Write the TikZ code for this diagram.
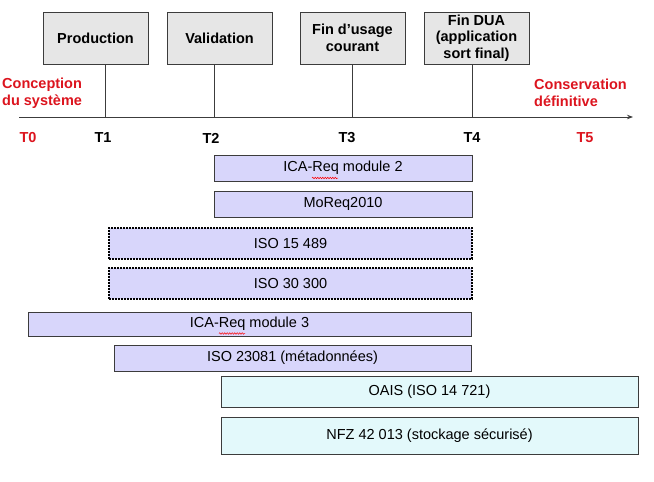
\documentclass[tikz,border=0pt]{standalone}
\usepackage{fontspec}
\setmainfont{Liberation Sans}
\usetikzlibrary{arrows.meta,decorations.pathmorphing}
\definecolor{redlab}{RGB}{220,20,30}
\definecolor{boxgray}{RGB}{230,230,230}
\definecolor{edgegray}{RGB}{60,60,60}
\definecolor{lav}{RGB}{216,214,251}
\definecolor{paleblue}{RGB}{227,249,251}
\begin{document}
\begin{tikzpicture}[x=1pt,y=-1pt,
  every node/.style={font=\fontsize{14.5}{16.5}\selectfont, inner sep=0pt},
  topbox/.style={draw=edgegray, line width=0.9pt, fill=boxgray, minimum width=105pt, minimum height=52pt, align=center, font=\fontsize{14.5}{16.5}\selectfont\bfseries},
  tlab/.style={font=\fontsize{14.5}{16.5}\selectfont\bfseries},
  redlab/.style={text=redlab, align=left, anchor=west, font=\fontsize{14.5}{17}\selectfont\bfseries},
  bar/.style={draw=edgegray, line width=0.9pt, fill=lav},
  dotbar/.style={draw=black, line width=1.8pt, dash pattern=on 1.6pt off 1.4pt, fill=lav},
  bluebar/.style={draw=edgegray, line width=0.9pt, fill=paleblue},
  squig/.style={draw=red, line width=0.5pt, decorate, decoration={snake, segment length=2.5pt, amplitude=0.8pt}},
  tick/.style={draw=edgegray, line width=0.9pt}
]
\useasboundingbox (0,0) rectangle (654,482);

% time positions on axis
\coordinate (axs) at (19,117);
\coordinate (axe) at (633,117);
\coordinate (t1) at (105,117);
\coordinate (t2) at (214,117);
\coordinate (t3) at (352,117);
\coordinate (t4) at (472,117);

% top boxes
\node[topbox] (prod) at (95.5,38) {Production};
\node[topbox] (valid) at (219.5,38) {Validation};
\node[topbox] (finu) at (352.5,38) {Fin d’usage\\courant};
\node[topbox] (fdua) at (476.5,38) {Fin DUA\\(application\\sort final)};

% axis
\draw[tick, -{Stealth[length=6pt,width=4.5pt]}] (axs) -- (axe);
\draw[tick] (prod.south -| t1) -- (t1);
\draw[tick] (valid.south -| t2) -- (t2);
\draw[tick] (finu.south -| t3) -- (t3);
\draw[tick] (fdua.south -| t4) -- (t4);

% red labels
\node[redlab] (concep) at (2,93) {Conception\\du système};
\node[redlab] (conserv) at (534,93) {Conservation\\définitive};

% T labels
\node[tlab, text=redlab] (T0) at (28,138) {T0};
\node[tlab] (T1) at (103,138) {T1};
\node[tlab] (T2) at (211,138) {T2};
\node[tlab] (T3) at (347,138) {T3};
\node[tlab] (T4) at (472,138) {T4};
\node[tlab, text=redlab] (T5) at (585,138) {T5};

% bars
\node[bar, minimum width=258pt, minimum height=26pt] (b1) at (343,168) {ICA-Req module 2};
\node[bar, minimum width=258pt, minimum height=26pt] (b2) at (343,204) {MoReq2010};
\node[dotbar, minimum width=363pt, minimum height=31pt] (b3) at (290.5,243.5) {ISO 15 489};
\node[dotbar, minimum width=363pt, minimum height=31pt] (b4) at (290.5,283.5) {ISO 30 300};
\node[bar, minimum width=443pt, minimum height=24pt] (b5) at (249.5,324) {ICA-Req module 3};
\node[bar, minimum width=357pt, minimum height=26pt] (b6) at (292.5,358) {ISO 23081 (métadonnées)};
\node[bluebar, minimum width=417pt, minimum height=31pt] (b7) at (429.5,391.5) {OAIS (ISO 14 721)};
\node[bluebar, minimum width=417pt, minimum height=37pt] (b8) at (429.5,435.5) {NFZ 42 013 (stockage sécurisé)};

% spell-check squiggles
\path[squig] (312,178) -- (338,178);
\path[squig] (219,333.5) -- (245,333.5);
\end{tikzpicture}
\end{document}
